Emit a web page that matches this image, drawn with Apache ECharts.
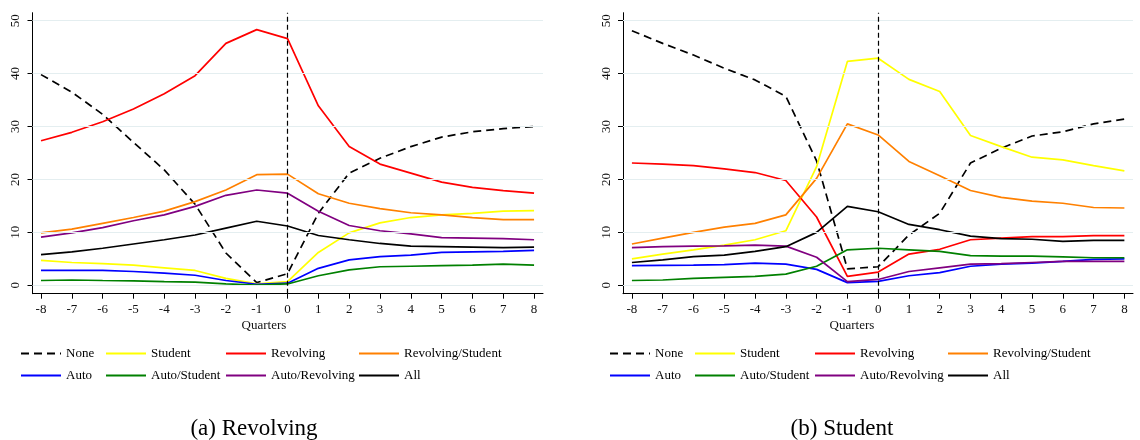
<!DOCTYPE html>
<html>
<head>
<meta charset="utf-8">
<script src="https://cdn.jsdelivr.net/npm/echarts@6/dist/echarts.min.js"></script>
<style>html,body{margin:0;padding:0;background:#fff}#c{width:1140px;height:440px}</style>
</head>
<body>
<div id="c"></div>
<script>
var quarters = [-8,-7,-6,-5,-4,-3,-2,-1,0,1,2,3,4,5,6,7,8];
var yTicks = [0,10,20,30,40,50];
var seriesNames = ['None','Student','Revolving','Revolving/Student','Auto','Auto/Student','Auto/Revolving','All'];
var panelTitles = ['(a) Revolving','(b) Student'];
var axisTitle = 'Quarters';

// Panel (a) Revolving
var none_a = [39.8,36.5,32.3,27.0,21.8,15.3,6.1,0.5,2.2,13.6,21.2,24.0,26.2,28.0,29.0,29.6,30.0];
var student_a = [4.7,4.3,4.1,3.8,3.3,2.8,1.3,0.25,0.7,6.2,9.9,11.8,12.8,13.3,13.6,14.0,14.1];
var revolving_a = [27.3,28.9,30.9,33.3,36.2,39.6,45.7,48.3,46.6,33.9,26.2,22.9,21.2,19.5,18.5,17.9,17.4];
var revstudent_a = [9.9,10.6,11.7,12.8,14.0,15.8,18.0,20.9,21.0,17.3,15.5,14.5,13.7,13.3,12.8,12.4,12.4];
var auto_a = [2.8,2.8,2.8,2.6,2.3,1.9,0.9,0.2,0.4,3.2,4.8,5.4,5.7,6.2,6.3,6.4,6.6];
var autostudent_a = [0.9,1.0,0.9,0.85,0.7,0.6,0.25,0.05,0.25,1.8,2.9,3.5,3.6,3.7,3.8,4.0,3.8];
var autorevolving_a = [9.1,9.9,10.9,12.2,13.3,14.9,17.0,18.0,17.4,14.0,11.3,10.3,9.7,9.0,8.9,8.8,8.6];
var all_a = [5.8,6.3,7.0,7.8,8.6,9.5,10.8,12.1,11.2,9.4,8.6,7.9,7.4,7.3,7.2,7.1,7.2];

// Panel (b) Student
var none_b = [48.1,45.7,43.5,41.0,38.8,35.7,23.5,3.1,3.5,9.5,13.6,23.1,25.9,28.2,29.0,30.5,31.4];
var student_b = [5.0,5.9,6.7,7.6,8.6,10.3,22.4,42.3,42.9,38.9,36.6,28.3,26.2,24.2,23.7,22.6,21.6];
var revolving_b = [23.1,22.9,22.6,22.0,21.3,19.8,12.9,1.7,2.5,5.9,6.8,8.6,8.9,9.2,9.2,9.4,9.4];
var revstudent_b = [7.8,8.9,10.0,11.0,11.7,13.3,20.2,30.5,28.4,23.4,20.7,17.9,16.6,15.9,15.5,14.7,14.6];
var auto_b = [3.7,3.75,3.8,3.9,4.2,4.0,3.0,0.5,0.75,1.8,2.4,3.6,4.0,4.2,4.5,4.9,5.0];
var autostudent_b = [0.9,1.0,1.3,1.5,1.7,2.1,3.6,6.7,7.0,6.7,6.4,5.6,5.5,5.5,5.35,5.2,5.2];
var autorevolving_b = [7.1,7.3,7.4,7.45,7.6,7.4,5.3,0.7,1.1,2.6,3.3,4.0,4.1,4.3,4.5,4.5,4.5];
var all_b = [4.3,4.8,5.4,5.7,6.4,7.3,10.0,14.9,13.9,11.5,10.5,9.3,8.8,8.7,8.3,8.5,8.5];

var panelData = [
  [none_a, student_a, revolving_a, revstudent_a, auto_a, autostudent_a, autorevolving_a, all_a],
  [none_b, student_b, revolving_b, revstudent_b, auto_b, autostudent_b, autorevolving_b, all_b]
];
var colors = ['#000000','#ffff00','#ff0000','#ff8000','#0000ff','#008000','#800080','#000000'];
var SERIF = '"Liberation Serif", "Times New Roman", serif';

var grids = [
  {left: 32.5, top: 12.7, width: 510.5, height: 281},
  {left: 623, top: 12.7, width: 510, height: 281}
];
var xExt = [[-8.276, 8.29], [-8.29, 8.28]];
var legendCols = [[20,105,225,358],[609,694,814,947]];
var legendRows = [347, 369];
var quartersX = [264, 852];
var captionX = [254, 842];

var xAxes = [], yAxes = [], series = [], legends = [], graphics = [];
for (var p = 0; p < 2; p++) {
  xAxes.push({
    type: 'value', gridIndex: p, min: xExt[p][0], max: xExt[p][1],
    axisLine: {show: true, onZero: false, lineStyle: {color: '#000', width: 1}},
    axisTick: {show: true, length: 5, lineStyle: {color: '#000'}, customValues: quarters},
    axisLabel: {show: true, margin: 9, color: '#111', fontFamily: SERIF, fontSize: 13, customValues: quarters,
      formatter: function (v) { return String(v); }},
    splitLine: {show: false}
  });
  yAxes.push({
    type: 'value', gridIndex: p, min: -1.59, max: 51.5,
    axisLine: {show: true, onZero: false, lineStyle: {color: '#000', width: 1}},
    axisTick: {show: true, length: 5, lineStyle: {color: '#000'}, customValues: yTicks},
    axisLabel: {show: true, rotate: 90, margin: 10, color: '#111', fontFamily: SERIF, fontSize: 13, customValues: yTicks,
      formatter: function (v) { return String(v); }},
    splitLine: {show: false}
  });
  // gridlines
  series.push({
    type: 'line', xAxisIndex: p, yAxisIndex: p, data: [], silent: true, z: 1,
    markLine: {
      silent: true, symbol: 'none', label: {show: false}, animation: false,
      lineStyle: {type: 'solid', color: '#e4eef0', width: 1},
      data: yTicks.map(function (t) { return {yAxis: t}; })
    }
  });
  for (var s = 0; s < seriesNames.length; s++) {
    series.push({
      type: 'line', name: seriesNames[s], xAxisIndex: p, yAxisIndex: p, z: 3,
      symbol: 'none', showSymbol: false, smooth: false, silent: true,
      data: quarters.map(function (q, i) { return [q, panelData[p][s][i]]; }),
      color: colors[s],
      lineStyle: {color: colors[s], width: 1.7, type: s === 0 ? [8, 5] : 'solid'}
    });
  }
  // zero-quarter reference line
  series.push({
    type: 'line', xAxisIndex: p, yAxisIndex: p, data: [], silent: true, z: 4,
    markLine: {
      silent: true, symbol: 'none', label: {show: false}, animation: false,
      lineStyle: {type: [5, 3], color: '#000', width: 1.2},
      data: [{xAxis: 0}]
    }
  });
  for (var k = 0; k < seriesNames.length; k++) {
    legends.push({
      data: [seriesNames[k]], left: legendCols[p][k % 4], top: legendRows[Math.floor(k / 4)],
      padding: 0, itemWidth: 40, itemHeight: 14, itemGap: 0, selectedMode: false,
      itemStyle: {opacity: 0, borderWidth: 0},
      textStyle: {fontFamily: SERIF, fontSize: 13, color: '#000'}
    });
  }
  graphics.push({
    type: 'text', x: quartersX[p], y: 325.5,
    style: {text: axisTitle, textAlign: 'center', textVerticalAlign: 'middle', font: '13px ' + SERIF, fill: '#111'}
  });
  graphics.push({
    type: 'text', x: captionX[p], y: 429,
    style: {text: panelTitles[p], textAlign: 'center', textVerticalAlign: 'middle', font: '23px ' + SERIF, fill: '#000'}
  });
}

var chart = echarts.init(document.getElementById('c'), null, {renderer: 'canvas'});
chart.setOption({
  animation: false,
  backgroundColor: '#fff',
  grid: grids,
  xAxis: xAxes,
  yAxis: yAxes,
  legend: legends,
  series: series,
  graphic: graphics
});
</script>
</body>
</html>
